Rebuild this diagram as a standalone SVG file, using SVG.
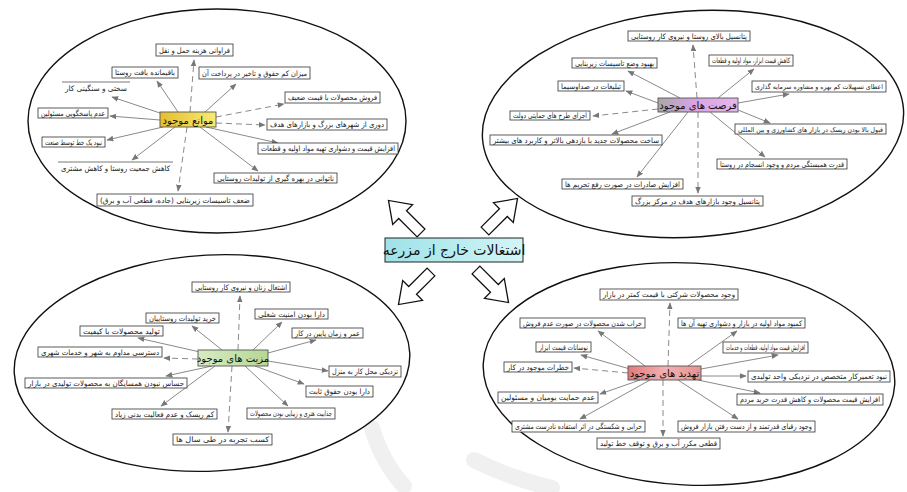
<svg xmlns="http://www.w3.org/2000/svg" width="907" height="492" viewBox="0 0 907 492">
<defs>
<style>
.ell{fill:none;stroke:#111;stroke-width:1.4}
.box{fill:#fff;stroke:#333;stroke-width:0.8}
.ol{stroke:#555;stroke-width:0.8}
.t{font-family:"DejaVu Sans","Noto Sans",sans-serif;font-size:7.5px;fill:#222;direction:rtl;text-anchor:middle}
.sm{font-size:6.6px}
.lb{font-size:10px;fill:#111}
.hub{font-size:14px;fill:#111}
.c{stroke:#8a8a8a;stroke-width:1;fill:none;marker-end:url(#ah)}
.d{stroke-dasharray:6 4}
.ha{fill:#fff;stroke:#111;stroke-width:1.3;stroke-linejoin:miter}
.lbox{stroke:#555;stroke-width:0.9}
.wm{fill:none;stroke:#f0f0f0;stroke-width:16;stroke-linecap:round}
</style>
<marker id="ah" viewBox="0 0 10 10" refX="9" refY="5" markerWidth="7" markerHeight="7" orient="auto" markerUnits="userSpaceOnUse"><path d="M0,1 L10,5 L0,9 Z" fill="#777"/></marker>
<linearGradient id="gy" x1="0" x2="1"><stop offset="0" stop-color="#e6bd2e"/><stop offset="1" stop-color="#f7eb72"/></linearGradient>
<linearGradient id="gp" x1="0" x2="1"><stop offset="0" stop-color="#a8a8a8"/><stop offset="0.45" stop-color="#d9a3e3"/><stop offset="1" stop-color="#e6b6ec"/></linearGradient>
<linearGradient id="gg" x1="0" x2="1"><stop offset="0" stop-color="#d6ebc2"/><stop offset="1" stop-color="#b7d796"/></linearGradient>
<linearGradient id="gr" x1="0" x2="1"><stop offset="0" stop-color="#e27a7a"/><stop offset="0.5" stop-color="#f2b0b0"/><stop offset="1" stop-color="#e69393"/></linearGradient>
<linearGradient id="gc" x1="0" x2="1"><stop offset="0" stop-color="#9fe2e8"/><stop offset="1" stop-color="#d3f5f6"/></linearGradient>
<path id="big" d="M0,-5.5 L26,-5.5 L26,-14 L46,0 L26,14 L26,5.5 L0,5.5 Z"/>
</defs>
<rect width="907" height="492" fill="#fff"/>

<g id="watermark">
<path class="wm" d="M372 428 Q382 462 404 486"/>
<path class="wm" d="M474 460 Q510 478 552 488"/>
</g>

<g id="clusters">
<ellipse class="ell" cx="217" cy="121" rx="189" ry="112"/>
<ellipse class="ell" cx="693" cy="124" rx="211" ry="113" transform="rotate(-4 693 124)"/>
<ellipse class="ell" cx="212" cy="363" rx="198" ry="108" transform="rotate(-3 212 363)"/>
<ellipse class="ell" cx="689" cy="374" rx="206" ry="111" transform="rotate(3 689 374)"/>
</g>

<g id="connectors">
<use href="#big" class="ha" transform="translate(421,233) rotate(-135)"/>
<use href="#big" class="ha" transform="translate(485,231) rotate(-45)"/>
<use href="#big" class="ha" transform="translate(431,272) rotate(135)"/>
<use href="#big" class="ha" transform="translate(476,270) rotate(45)"/>
<line class="c d" x1="190" y1="112" x2="194" y2="60"/>
<line class="c" x1="178" y1="112" x2="157" y2="81"/>
<line class="c" x1="205" y1="112" x2="236" y2="84"/>
<line class="c" x1="163" y1="114" x2="112" y2="97"/>
<line class="c d" x1="216" y1="117" x2="284" y2="104"/>
<line class="c" x1="160" y1="120" x2="110" y2="116"/>
<line class="c d" x1="216" y1="123" x2="265" y2="125"/>
<line class="c" x1="163" y1="127" x2="107" y2="140"/>
<line class="c" x1="206" y1="127" x2="278" y2="143"/>
<line class="c" x1="175" y1="127" x2="132" y2="160"/>
<line class="c d" x1="187" y1="127" x2="178" y2="191"/>
<line class="c" x1="200" y1="127" x2="258" y2="171"/>

<line class="c d" x1="697" y1="98" x2="693" y2="45"/>
<line class="c" x1="680" y1="98" x2="628" y2="71"/>
<line class="c" x1="718" y1="98" x2="754" y2="69"/>
<line class="c" x1="658" y1="103" x2="626" y2="91"/>
<line class="c" x1="738" y1="103" x2="789" y2="94"/>
<line class="c d" x1="658" y1="109" x2="593" y2="116"/>
<line class="c" x1="738" y1="110" x2="770" y2="123"/>
<line class="c" x1="670" y1="112" x2="612" y2="134"/>
<line class="c" x1="710" y1="112" x2="765" y2="157"/>
<line class="c" x1="688" y1="112" x2="637" y2="177"/>
<line class="c d" x1="698" y1="112" x2="698" y2="193"/>

<line class="c d" x1="238" y1="350" x2="240" y2="296"/>
<line class="c" x1="222" y1="350" x2="192" y2="326"/>
<line class="c" x1="253" y1="350" x2="282" y2="322"/>
<line class="c" x1="200" y1="352" x2="138" y2="338"/>
<line class="c" x1="268" y1="353" x2="316" y2="340"/>
<line class="c d" x1="198" y1="359" x2="164" y2="358"/>
<line class="c" x1="268" y1="361" x2="328" y2="371"/>
<line class="c" x1="212" y1="366" x2="166" y2="376"/>
<line class="c" x1="255" y1="366" x2="304" y2="384"/>
<line class="c" x1="215" y1="366" x2="161" y2="406"/>
<line class="c" x1="245" y1="366" x2="288" y2="406"/>
<line class="c d" x1="232" y1="366" x2="228" y2="432"/>

<line class="c d" x1="668" y1="366" x2="670" y2="303"/>
<line class="c" x1="645" y1="366" x2="598" y2="331"/>
<line class="c" x1="688" y1="366" x2="737" y2="331"/>
<line class="c" x1="630" y1="369" x2="581" y2="355"/>
<line class="c" x1="701" y1="369" x2="778" y2="355"/>
<line class="c d" x1="628" y1="373" x2="574" y2="368"/>
<line class="c" x1="701" y1="376" x2="746" y2="376"/>
<line class="c" x1="640" y1="380" x2="600" y2="394"/>
<line class="c" x1="698" y1="380" x2="760" y2="393"/>
<line class="c" x1="650" y1="380" x2="580" y2="419"/>
<line class="c d" x1="663" y1="380" x2="663" y2="436"/>
<line class="c" x1="678" y1="380" x2="738" y2="419"/>
</g>

<g id="hub"><rect x="385" y="238" width="138" height="24" fill="url(#gc)" stroke="#222" stroke-width="1"/><text class="t hub" x="454" y="255">اشتغالات خارج از مزرعه</text></g>

<g id="tl0"><rect class="lbox" x="160" y="112" width="56" height="15" fill="url(#gy)"/><text class="t lb" x="188" y="123.5">موانع موجود</text></g>
<g id="tl1"><rect class="box" x="156" y="44" width="77" height="12"/><text class="t" x="194.5" y="52.8" textLength="71" lengthAdjust="spacingAndGlyphs">فراوانی هزینه حمل و نقل</text></g>
<g id="tl2"><rect class="box" x="112" y="67" width="66" height="11"/><text class="t" x="145" y="75.3" textLength="60" lengthAdjust="spacingAndGlyphs">باقیمانده بافت روستا</text></g>
<g id="tl3"><rect class="box" x="199" y="67" width="111" height="12"/><text class="t" x="254.5" y="75.8" textLength="105" lengthAdjust="spacingAndGlyphs">میزان کم حقوق و تاخیر در پرداخت آن</text></g>
<g id="tl4"><line class="ol" x1="62" y1="82" x2="130" y2="82"/><text class="t" x="96" y="90.5" textLength="62" lengthAdjust="spacingAndGlyphs">سختی و سنگینی کار</text></g>
<g id="tl5"><rect class="box" x="285" y="92" width="95" height="11"/><text class="t" x="332.5" y="100.3" textLength="89" lengthAdjust="spacingAndGlyphs">فروش محصولات با قیمت ضعیف</text></g>
<g id="tl6"><rect class="box" x="38" y="108" width="70" height="10"/><text class="t" x="73" y="115.8" textLength="64" lengthAdjust="spacingAndGlyphs">عدم پاسخگویی مسئولین</text></g>
<g id="tl7"><rect class="box" x="267" y="119" width="120" height="11"/><text class="t" x="327" y="127.3" textLength="114" lengthAdjust="spacingAndGlyphs">دوری از شهرهای بزرگ و بازارهای هدف</text></g>
<g id="tl8"><rect class="box" x="42" y="137" width="63" height="10"/><text class="t" x="73.5" y="144.8" textLength="57" lengthAdjust="spacingAndGlyphs">نبود یک خط توسط صنعت</text></g>
<g id="tl9"><rect class="box" x="258" y="143" width="140" height="11"/><text class="t" x="328" y="151.3" textLength="134" lengthAdjust="spacingAndGlyphs">افزایش قیمت و دشواری تهیه مواد اولیه و قطعات</text></g>
<g id="tl10"><line class="ol" x1="58" y1="162" x2="173" y2="162"/><text class="t" x="115.5" y="170.5" textLength="109" lengthAdjust="spacingAndGlyphs">کاهش جمعیت روستا و کاهش مشتری</text></g>
<g id="tl11"><rect class="box" x="214" y="173" width="123" height="10"/><text class="t" x="275.5" y="180.8" textLength="117" lengthAdjust="spacingAndGlyphs">ناتوانی در بهره گیری از تولیدات روستایی</text></g>
<g id="tl12"><rect class="box" x="97" y="194" width="156" height="12"/><text class="t" x="175" y="202.8" textLength="150" lengthAdjust="spacingAndGlyphs">ضعف تاسیسات زیربنایی (جاده، قطعی آب و برق)</text></g>

<g id="tr0"><rect class="lbox" x="658" y="98" width="80" height="14" fill="url(#gp)"/><text class="t lb" x="698" y="109">فرصت های موجود</text></g>
<g id="tr1"><rect class="box" x="628" y="31" width="122" height="10"/><text class="t" x="689" y="38.8" textLength="116" lengthAdjust="spacingAndGlyphs">پتانسیل بالای روستا و نیروی کار روستایی</text></g>
<g id="tr2"><rect class="box" x="572" y="58" width="85" height="10"/><text class="t" x="614.5" y="65.8" textLength="79" lengthAdjust="spacingAndGlyphs">بهبود وضع تاسیسات زیربنایی</text></g>
<g id="tr3"><rect class="box" x="709" y="55" width="84" height="11"/><text class="t" x="751" y="63.3" textLength="78" lengthAdjust="spacingAndGlyphs">کاهش قیمت ابزار، مواد اولیه و قطعات</text></g>
<g id="tr4"><rect class="box" x="558" y="81" width="66" height="10"/><text class="t" x="591" y="88.8" textLength="60" lengthAdjust="spacingAndGlyphs">تبلیغات در صداوسیما</text></g>
<g id="tr5"><rect class="box" x="752" y="81" width="134" height="11"/><text class="t sm" x="819" y="89" textLength="128" lengthAdjust="spacingAndGlyphs">اعطای تسهیلات کم بهره و مشاوره سرمایه گذاری</text></g>
<g id="tr6"><rect class="box" x="510" y="111" width="80" height="9"/><text class="t" x="550" y="118.2" textLength="74" lengthAdjust="spacingAndGlyphs">اجرای طرح های حمایتی دولت</text></g>
<g id="tr7"><rect class="box" x="735" y="124" width="151" height="10"/><text class="t sm" x="810.5" y="131.5" textLength="145" lengthAdjust="spacingAndGlyphs">قبول بالا بودن ریسک در بازار های کشاورزی و بین المللی</text></g>
<g id="tr8"><rect class="box" x="490" y="135" width="172" height="10"/><text class="t" x="576" y="142.8" textLength="166" lengthAdjust="spacingAndGlyphs">ساخت محصولات جدید با بازدهی بالاتر و کاربرد های بیشتر</text></g>
<g id="tr9"><rect class="box" x="717" y="159" width="130" height="10"/><text class="t" x="782" y="166.8" textLength="124" lengthAdjust="spacingAndGlyphs">قدرت همبستگی مردم و وجود انسجام در روستا</text></g>
<g id="tr10"><rect class="box" x="562" y="179" width="121" height="10"/><text class="t" x="622.5" y="186.8" textLength="115" lengthAdjust="spacingAndGlyphs">افزایش صادرات در صورت رفع تحریم ها</text></g>
<g id="tr11"><rect class="box" x="632" y="196" width="131" height="10"/><text class="t" x="697.5" y="203.8" textLength="125" lengthAdjust="spacingAndGlyphs">پتانسیل وجود بازارهای هدف در مرکز بزرگ</text></g>

<g id="bl0"><rect class="lbox" x="198" y="350" width="70" height="16" fill="url(#gg)"/><text class="t lb" x="233" y="362">مزیت های موجود</text></g>
<g id="bl1"><rect class="box" x="192" y="282" width="98" height="10"/><text class="t" x="241" y="289.8" textLength="92" lengthAdjust="spacingAndGlyphs">اشتغال زنان و نیروی کار روستایی</text></g>
<g id="bl2"><rect class="box" x="146" y="313" width="73" height="10"/><text class="t" x="182.5" y="320.8" textLength="67" lengthAdjust="spacingAndGlyphs">خرید تولیدات روستاییان</text></g>
<g id="bl3"><rect class="box" x="255" y="309" width="73" height="10"/><text class="t" x="291.5" y="316.8" textLength="67" lengthAdjust="spacingAndGlyphs">دارا بودن امنیت شغلی</text></g>
<g id="bl4"><rect class="box" x="80" y="326" width="83" height="10"/><text class="t" x="121.5" y="333.8" textLength="77" lengthAdjust="spacingAndGlyphs">تولید محصولات با کیفیت</text></g>
<g id="bl5"><rect class="box" x="292" y="328" width="71" height="10"/><text class="t" x="327.5" y="335.8" textLength="65" lengthAdjust="spacingAndGlyphs">عمر و زمان پایین در کار</text></g>
<g id="bl6"><rect class="box" x="38" y="347" width="124" height="10"/><text class="t" x="100" y="354.8" textLength="118" lengthAdjust="spacingAndGlyphs">دسترسی مداوم به شهر و خدمات شهری</text></g>
<g id="bl7"><rect class="box" x="329" y="366" width="72" height="11"/><text class="t" x="365" y="374.3" textLength="66" lengthAdjust="spacingAndGlyphs">نزدیکی محل کار به منزل</text></g>
<g id="bl8"><rect class="box" x="25" y="378" width="162" height="10"/><text class="t" x="106" y="385.8" textLength="156" lengthAdjust="spacingAndGlyphs">حساس نبودن همسایگان به محصولات تولیدی در بازار</text></g>
<g id="bl9"><rect class="box" x="306" y="386" width="67" height="11"/><text class="t" x="339.5" y="394.3" textLength="61" lengthAdjust="spacingAndGlyphs">دارا بودن حقوق ثابت</text></g>
<g id="bl10"><rect class="box" x="112" y="409" width="105" height="10"/><text class="t" x="164.5" y="416.8" textLength="99" lengthAdjust="spacingAndGlyphs">کم ریسک و عدم فعالیت بدنی زیاد</text></g>
<g id="bl11"><rect class="box" x="247" y="408" width="88" height="11"/><text class="t" x="291" y="416.3" textLength="82" lengthAdjust="spacingAndGlyphs">جذابیت هنری و زیبایی بودن محصولات</text></g>
<g id="bl12"><rect class="box" x="173" y="434" width="99" height="11"/><text class="t" x="222.5" y="442.3" textLength="93" lengthAdjust="spacingAndGlyphs">کسب تجربه در طی سال ها</text></g>

<g id="br0"><rect class="lbox" x="628" y="366" width="73" height="14" fill="url(#gr)"/><text class="t lb" x="664.5" y="377">تهدید های موجود</text></g>
<g id="br1"><rect class="box" x="600" y="289" width="138" height="11"/><text class="t" x="669" y="297.3" textLength="132" lengthAdjust="spacingAndGlyphs">وجود محصولات شرکتی با قیمت کمتر در بازار</text></g>
<g id="br2"><rect class="box" x="520" y="318" width="125" height="10"/><text class="t" x="582.5" y="325.8" textLength="119" lengthAdjust="spacingAndGlyphs">خراب شدن محصولات در صورت عدم فروش</text></g>
<g id="br3"><rect class="box" x="678" y="318" width="127" height="10"/><text class="t" x="741.5" y="325.8" textLength="121" lengthAdjust="spacingAndGlyphs">کمبود مواد اولیه در بازار و دشواری تهیه آن ها</text></g>
<g id="br4"><rect class="box" x="536" y="342" width="55" height="10"/><text class="t" x="563.5" y="349.8" textLength="49" lengthAdjust="spacingAndGlyphs">نوسانات قیمت ابزار</text></g>
<g id="br5"><rect class="box" x="723" y="342" width="85" height="11"/><text class="t" x="765.5" y="350.3" textLength="79" lengthAdjust="spacingAndGlyphs">افزایش قیمت مواد اولیه، قطعات و خدمات</text></g>
<g id="br6"><rect class="box" x="504" y="362" width="68" height="10"/><text class="t" x="538" y="369.8" textLength="62" lengthAdjust="spacingAndGlyphs">خطرات موجود در کار</text></g>
<g id="br7"><rect class="box" x="748" y="371" width="142" height="11"/><text class="t" x="819" y="379.3" textLength="136" lengthAdjust="spacingAndGlyphs">نبود تعمیرکار متخصص در نزدیکی واحد تولیدی</text></g>
<g id="br8"><rect class="box" x="498" y="392" width="100" height="11"/><text class="t" x="548" y="400.3" textLength="94" lengthAdjust="spacingAndGlyphs">عدم حمایت بومیان و مسئولین</text></g>
<g id="br9"><rect class="box" x="737" y="394" width="146" height="11"/><text class="t" x="810" y="402.3" textLength="140" lengthAdjust="spacingAndGlyphs">افزایش قیمت محصولات و کاهش قدرت خرید مردم</text></g>
<g id="br10"><rect class="box" x="512" y="421" width="133" height="11"/><text class="t" x="578.5" y="429.3" textLength="127" lengthAdjust="spacingAndGlyphs">خرابی و شکستگی در اثر استفاده نادرست مشتری</text></g>
<g id="br11"><rect class="box" x="678" y="421" width="137" height="11"/><text class="t" x="746.5" y="429.3" textLength="131" lengthAdjust="spacingAndGlyphs">وجود رقبای قدرتمند و از دست رفتن بازار فروش</text></g>
<g id="br12"><rect class="box" x="597" y="438" width="123" height="11"/><text class="t" x="658.5" y="446.3" textLength="117" lengthAdjust="spacingAndGlyphs">قطعی مکرر آب و برق و توقف خط تولید</text></g>
</svg>
